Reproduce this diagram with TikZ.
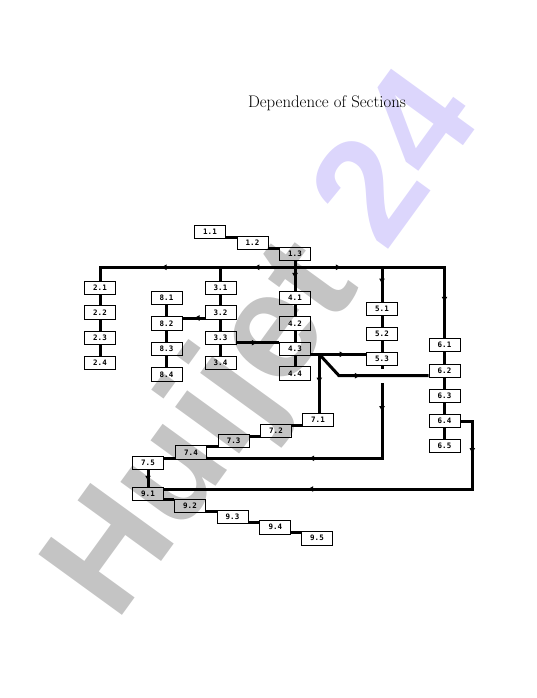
\documentclass[tikz,border=0pt]{standalone}
\usepackage{fontspec}
\newfontfamily\boxfont{DejaVu Sans Mono}
\newfontfamily\wmfont{Liberation Sans}
\usetikzlibrary{decorations.markings,arrows.meta}
\definecolor{wmgray}{RGB}{196,196,196}
\definecolor{wmlav}{RGB}{220,214,252}
\tikzset{
  sec/.style={draw=black, line width=0.8pt, minimum width=31pt, minimum height=13.5pt, inner sep=0pt,
    font=\boxfont\bfseries\fontsize{7.5}{8}\selectfont},
  conn/.style={line width=3pt},
  arr/.style={postaction={decorate}, decoration={markings,
      mark=at position #1 with {\arrow{Latex[length=6pt,width=6pt]}}}},
  arrtwo/.style 2 args={postaction={decorate}, decoration={markings,
      mark=at position #1 with {\arrow{Latex[length=6pt,width=6pt]}},
      mark=at position #2 with {\arrow{Latex[length=6pt,width=6pt]}}}},
}
\begin{document}
\begin{tikzpicture}[x=1pt,y=-1pt]
\path[use as bounding box] (0,0) rectangle (536,698);
% watermark
\node[rotate=54, anchor=base west, inner sep=0pt,
  font=\wmfont\bfseries\fontsize{150}{156}\selectfont] (wm) at (116,624)
  {\textcolor{wmgray}{Huijet}~\textcolor{wmlav}{24}};
% title
\node[anchor=base, inner sep=0pt, font=\fontsize{16.8}{19}\selectfont] (title) at (327,108) {Dependence of Sections};
% sections
\node[sec] (n11) at (210,232) {1.1};
\node[sec] (n12) at (252.5,243) {1.2};
\node[sec] (n13) at (295,254) {1.3};
\node[sec] (n21) at (100,288) {2.1};
\node[sec] (n22) at (100,312.5) {2.2};
\node[sec] (n23) at (100,338) {2.3};
\node[sec] (n24) at (100,363) {2.4};
\node[sec] (n31) at (220.5,288) {3.1};
\node[sec] (n32) at (220.5,312.5) {3.2};
\node[sec] (n33) at (220.5,338) {3.3};
\node[sec] (n34) at (220.5,363) {3.4};
\node[sec] (n81) at (166.5,298) {8.1};
\node[sec] (n82) at (166.5,323.5) {8.2};
\node[sec] (n83) at (166.5,349) {8.3};
\node[sec] (n84) at (166.5,374.5) {8.4};
\node[sec] (n41) at (295,298) {4.1};
\node[sec] (n42) at (295,323.5) {4.2};
\node[sec] (n43) at (295,349) {4.3};
\node[sec] (n44) at (295,373.5) {4.4};
\node[sec] (n51) at (382,309) {5.1};
\node[sec] (n52) at (382,334) {5.2};
\node[sec] (n53) at (382,359) {5.3};
\node[sec] (n61) at (444.5,345) {6.1};
\node[sec] (n62) at (444.5,370.7) {6.2};
\node[sec] (n63) at (444.5,395.7) {6.3};
\node[sec] (n64) at (444.5,421) {6.4};
\node[sec] (n65) at (444.5,446) {6.5};
\node[sec] (n71) at (318,420) {7.1};
\node[sec] (n72) at (276,430.7) {7.2};
\node[sec] (n73) at (233.7,441) {7.3};
\node[sec] (n74) at (191,452.5) {7.4};
\node[sec] (n75) at (148,462.7) {7.5};
\node[sec] (n91) at (148,494) {9.1};
\node[sec] (n92) at (190,505.7) {9.2};
\node[sec] (n93) at (232.5,516.7) {9.3};
\node[sec] (n94) at (275.3,527.3) {9.4};
\node[sec] (n95) at (317,538.3) {9.5};
% staircases
\foreach \a/\b in {n11/n12,n12/n13,n91/n92,n92/n93,n93/n94,n94/n95}
  \draw[conn] ([yshift=-5.5pt]\a.east) -- ([yshift=-5.5pt]\a.east -| \b.west);
\foreach \a/\b in {n71/n72,n72/n73,n73/n74,n74/n75}
  \draw[conn] ([yshift=-5.5pt]\a.west) -- ([yshift=-5.5pt]\a.west -| \b.east);
% columns
\foreach \a/\b in {n21/n22,n22/n23,n23/n24,n31/n32,n32/n33,n33/n34,n81/n82,n82/n83,n83/n84,
  n41/n42,n42/n43,n43/n44,n51/n52,n52/n53,n61/n62,n62/n63,n63/n64,n64/n65}
  \draw[conn] (\a.south) -- (\b.north);
% bus
\coordinate (j13) at (295,267.3);
\coordinate (jb3) at (220.5,267.3);
\coordinate (bl) at (100,267.3);
\coordinate (jb5) at (382,267.3);
\coordinate (br) at (444.5,267.3);
\draw[conn,arr=0.6] (n13.south) -- (n41.north);
\draw[conn,arr=0.56] (j13) -- (jb3);
\draw[conn,arr=60pt] (jb3) -- (bl) -- (n21.north);
\draw[conn] (jb3) -- (n31.north);
\draw[conn,arr=0.54] (j13) -- (jb5);
\draw[conn,arr=98pt] (jb5) -- (br) -- (n61.north);
\draw[conn,arr=0.5] (jb5) -- (n51.north);
% cross links
\draw[conn,arr=0.5] ([yshift=-5.5pt]n32.west) -- ([yshift=-5.5pt]n32.west -| n82.east);
\draw[conn,arr=0.5] ([yshift=-4.7pt]n33.east) -- ([yshift=-4.7pt]n33.east -| n43.west);
% 5.3 down to 7.4
\draw[conn,arrtwo={46pt}{166pt}] (n53.south) |- ([yshift=-5.8pt]n74.east);
% 6.4 to 9.1
\coordinate (c64) at (472.3,421);
\draw[conn,arrtwo={45pt}{245pt}] (n64.east) -- (c64) |- ([yshift=5pt]n91.east);
% 7.5 to 9.1
\draw[conn,arr=0.7] (n75.south) -- (n91.north);
% 4.3 branches
\coordinate (J) at (319.3,354.3);
\coordinate (k62) at (339,375.7);
\draw[conn,arr=0.63] ([yshift=-5.3pt]n43.east) -- ([yshift=-5.3pt]n43.east -| n53.west);
\draw[conn,arr=0.5] (J) -- (J |- n71.north);
\draw[white,line width=5pt] ([yshift=7pt]n53.south |- k62) -- ([yshift=-7pt]n53.south |- k62);
\draw[conn,arr=51pt] (J) -- (k62) -- ([yshift=-5pt]n62.west);
\end{tikzpicture}
\end{document}
